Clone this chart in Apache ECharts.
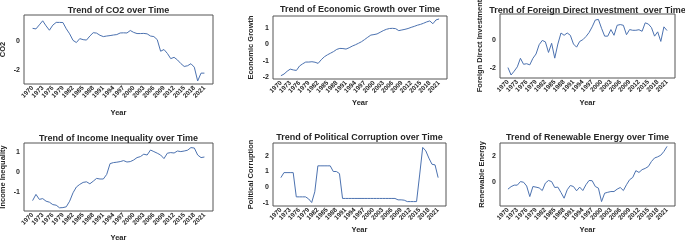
<!DOCTYPE html>
<html>
<head>
<meta charset="utf-8">
<script src="https://cdn.jsdelivr.net/npm/echarts@6/dist/echarts.min.js"></script>
<style>
html, body { margin: 0; padding: 0; background: #fff; }
#chart { width: 685px; height: 243px; }
</style>
</head>
<body>
<div id="chart"></div>
<script>
var years = [1970,1971,1972,1973,1974,1975,1976,1977,1978,1979,
             1980,1981,1982,1983,1984,1985,1986,1987,1988,1989,
             1990,1991,1992,1993,1994,1995,1996,1997,1998,1999,
             2000,2001,2002,2003,2004,2005,2006,2007,2008,2009,
             2010,2011,2012,2013,2014,2015,2016,2017,2018,2019,
             2020,2021];
var yearTicks = [1970,1973,1976,1979,1982,1985,1988,1991,1994,1997,2000,2003,2006,2009,2012,2015,2018,2021];

var co2 = [0.88,0.84,1.12,1.4,1.05,0.75,1.1,1.29,1.29,1.28,
           0.85,0.5,0.05,-0.1,0.17,0.1,0.07,0.35,0.58,0.55,
           0.4,0.31,0.35,0.38,0.42,0.45,0.56,0.57,0.56,0.73,
           0.6,0.52,0.52,0.53,0.5,0.35,0.31,0.1,-0.7,-0.58,
           -0.85,-1.21,-1.12,-1.3,-1.55,-1.75,-1.7,-1.56,-1.8,-2.75,
           -2.21,-2.21];
var econGrowth = [-1.92,-1.82,-1.65,-1.52,-1.57,-1.6,-1.33,-1.2,-1.09,-1.09,
                  -1.07,-1.1,-1.17,-0.95,-0.77,-0.65,-0.55,-0.45,-0.32,-0.26,
                  -0.27,-0.3,-0.22,-0.12,-0.04,0.05,0.15,0.28,0.42,0.55,
                  0.58,0.62,0.72,0.82,0.9,0.95,0.96,0.94,0.82,0.86,
                  0.9,0.95,1.02,1.08,1.15,1.2,1.27,1.35,1.41,1.24,
                  1.47,1.53];
var fdi = [-1.95,-2.47,-2.2,-1.9,-1.3,-1.72,-1.68,-1.76,-1.3,-1.0,
           -0.35,-0.05,-0.15,-0.89,-0.25,-1.29,-0.3,0.47,0.31,0.47,
           0.31,-0.3,-0.52,-0.12,0.0,0.22,0.5,0.9,1.38,1.42,
           0.8,0.25,0.25,0.71,0.31,1.01,1.06,1.01,0.35,0.71,
           0.66,0.66,0.7,0.59,1.18,1.1,0.85,0.25,0.55,-0.12,
           0.9,0.64];
var incomeIneq = [-1.43,-1.12,-1.37,-1.33,-1.46,-1.51,-1.63,-1.66,-1.79,-1.78,
                  -1.74,-1.46,-1.04,-0.75,-0.62,-0.52,-0.49,-0.59,-0.46,-0.32,
                  -0.35,-0.35,-0.12,0.42,0.47,0.49,0.52,0.57,0.5,0.52,
                  0.6,0.72,0.77,0.89,0.85,1.1,1.02,0.94,0.85,0.67,
                  0.94,0.97,0.95,1.05,1.02,1.05,1.09,1.22,1.2,0.85,
                  0.72,0.75];
var corruption = [0.6,0.92,0.92,0.92,0.92,-0.62,-0.62,-0.62,-0.62,-0.75,
                  -0.98,-0.3,1.35,1.35,1.35,1.35,1.35,0.99,0.99,0.86,
                  -0.72,-0.72,-0.72,-0.72,-0.72,-0.72,-0.72,-0.72,-0.72,-0.72,
                  -0.72,-0.72,-0.72,-0.72,-0.72,-0.72,-0.72,-0.72,-0.81,-0.81,
                  -0.83,-0.92,-0.92,-0.92,-0.92,0.77,2.52,2.3,1.84,1.45,
                  1.41,0.6];
var renewable = [-0.6,-0.4,-0.28,-0.28,0.0,-0.05,-0.35,-1.19,-0.39,-0.44,
                 -0.5,-0.71,-0.12,0.09,0.0,-0.47,-0.44,-0.87,-1.32,-0.65,
                 -0.31,-0.39,-0.73,-0.44,-0.71,-0.25,0.09,0.07,-0.39,-0.52,
                 -1.59,-0.92,-0.85,-0.79,-0.79,-0.6,-0.47,-0.71,-0.25,0.15,
                 0.33,0.87,0.73,0.95,1.05,1.2,1.6,1.88,1.97,2.1,
                 2.4,2.8];

var titles = ['Trend of CO2 over Time', 'Trend of Economic Growth over Time',
              'Trend of Foreign Direct Investment  over Time', 'Trend of Income Inequality over Time',
              'Trend of Political Corruption over Time', 'Trend of Renewable Energy over Time'];
var yNames = ['CO2', 'Economic Growth', 'Foreign Direct Investment', 'Income Inequality',
              'Political Corruption', 'Renewable Energy'];
var yTicks = [[-2, 0], [-2, -1, 0, 1], [-2, 0], [-1, 0, 1], [-1, 0, 1, 2], [0, 2]];
var values = [co2, econGrowth, fdi, incomeIneq, corruption, renewable];

// panel boxes (px) and axis ranges
var boxes = [
  {left: 24,  top: 15,  width: 189, height: 69, ymin: -2.96, ymax: 1.8,  xGap: 25, yGap: 17, titleY: 6},
  {left: 273, top: 16,  width: 174, height: 63, ymin: -2.12, ymax: 1.71, xGap: 20, yGap: 18, titleY: 5},
  {left: 500, top: 14,  width: 175, height: 64, ymin: -2.68, ymax: 1.8,  xGap: 21, yGap: 16, titleY: 6},
  {left: 24,  top: 143, width: 189, height: 68, ymin: -1.95, ymax: 1.45, xGap: 23, yGap: 17, titleY: 134},
  {left: 273, top: 143, width: 173, height: 63, ymin: -1.2,  ymax: 2.8,  xGap: 20, yGap: 18, titleY: 133},
  {left: 500, top: 143, width: 175, height: 63, ymin: -1.94, ymax: 3.07, xGap: 20, yGap: 14, titleY: 133}
];

var font = 'Liberation Sans';
var ink = '#262626';

var option = {
  animation: false,
  backgroundColor: '#fff',
  title: [], grid: [], xAxis: [], yAxis: [], series: []
};

for (var i = 0; i < 6; i++) {
  var b = boxes[i];
  var pts = [];
  for (var j = 0; j < years.length; j++) {
    pts.push([years[j], values[i][j]]);
  }
  option.title.push({
    text: titles[i],
    left: b.left + b.width / 2,
    top: b.titleY,
    textAlign: 'center',
    padding: 0,
    textStyle: {fontFamily: font, fontSize: 9, fontWeight: 'bold', color: ink}
  });
  option.grid.push({
    left: b.left, top: b.top, width: b.width, height: b.height,
    containLabel: false, outerBoundsMode: 'none',
    show: true, borderColor: '#555', borderWidth: 1, backgroundColor: 'transparent'
  });
  option.xAxis.push({
    type: 'value', gridIndex: i,
    min: 1967.45, max: 2023.55,
    name: 'Year', nameLocation: 'middle', nameGap: b.xGap,
    nameTextStyle: {fontFamily: font, fontSize: 7.5, fontWeight: 'bold', color: ink},
    axisLine: {show: false}, axisTick: {show: false}, splitLine: {show: false},
    axisLabel: {
      customValues: yearTicks, rotate: 45, margin: 3,
      hideOverlap: false, showMinLabel: true, showMaxLabel: true,
      minMargin: 0, lineHeight: 5,
      fontFamily: font, fontSize: 6.4, fontWeight: 'bold', color: ink,
      formatter: function (v) { return String(v); }
    }
  });
  option.yAxis.push({
    type: 'value', gridIndex: i,
    min: b.ymin, max: b.ymax,
    name: yNames[i], nameLocation: 'middle', nameGap: b.yGap,
    nameTextStyle: {fontFamily: font, fontSize: 7.5, fontWeight: 'bold', color: ink},
    axisLine: {show: false}, axisTick: {show: false}, splitLine: {show: false},
    axisLabel: {
      customValues: yTicks[i], margin: 4, hideOverlap: false,
      fontFamily: font, fontSize: 7, fontWeight: 'bold', color: ink
    }
  });
  option.series.push({
    type: 'line', xAxisIndex: i, yAxisIndex: i,
    data: pts, showSymbol: false, symbol: 'none',
    lineStyle: {color: '#4c72b0', width: 1},
    itemStyle: {color: '#4c72b0'}
  });
}

var chart = echarts.init(document.getElementById('chart'));
chart.setOption(option);
</script>
</body>
</html>
